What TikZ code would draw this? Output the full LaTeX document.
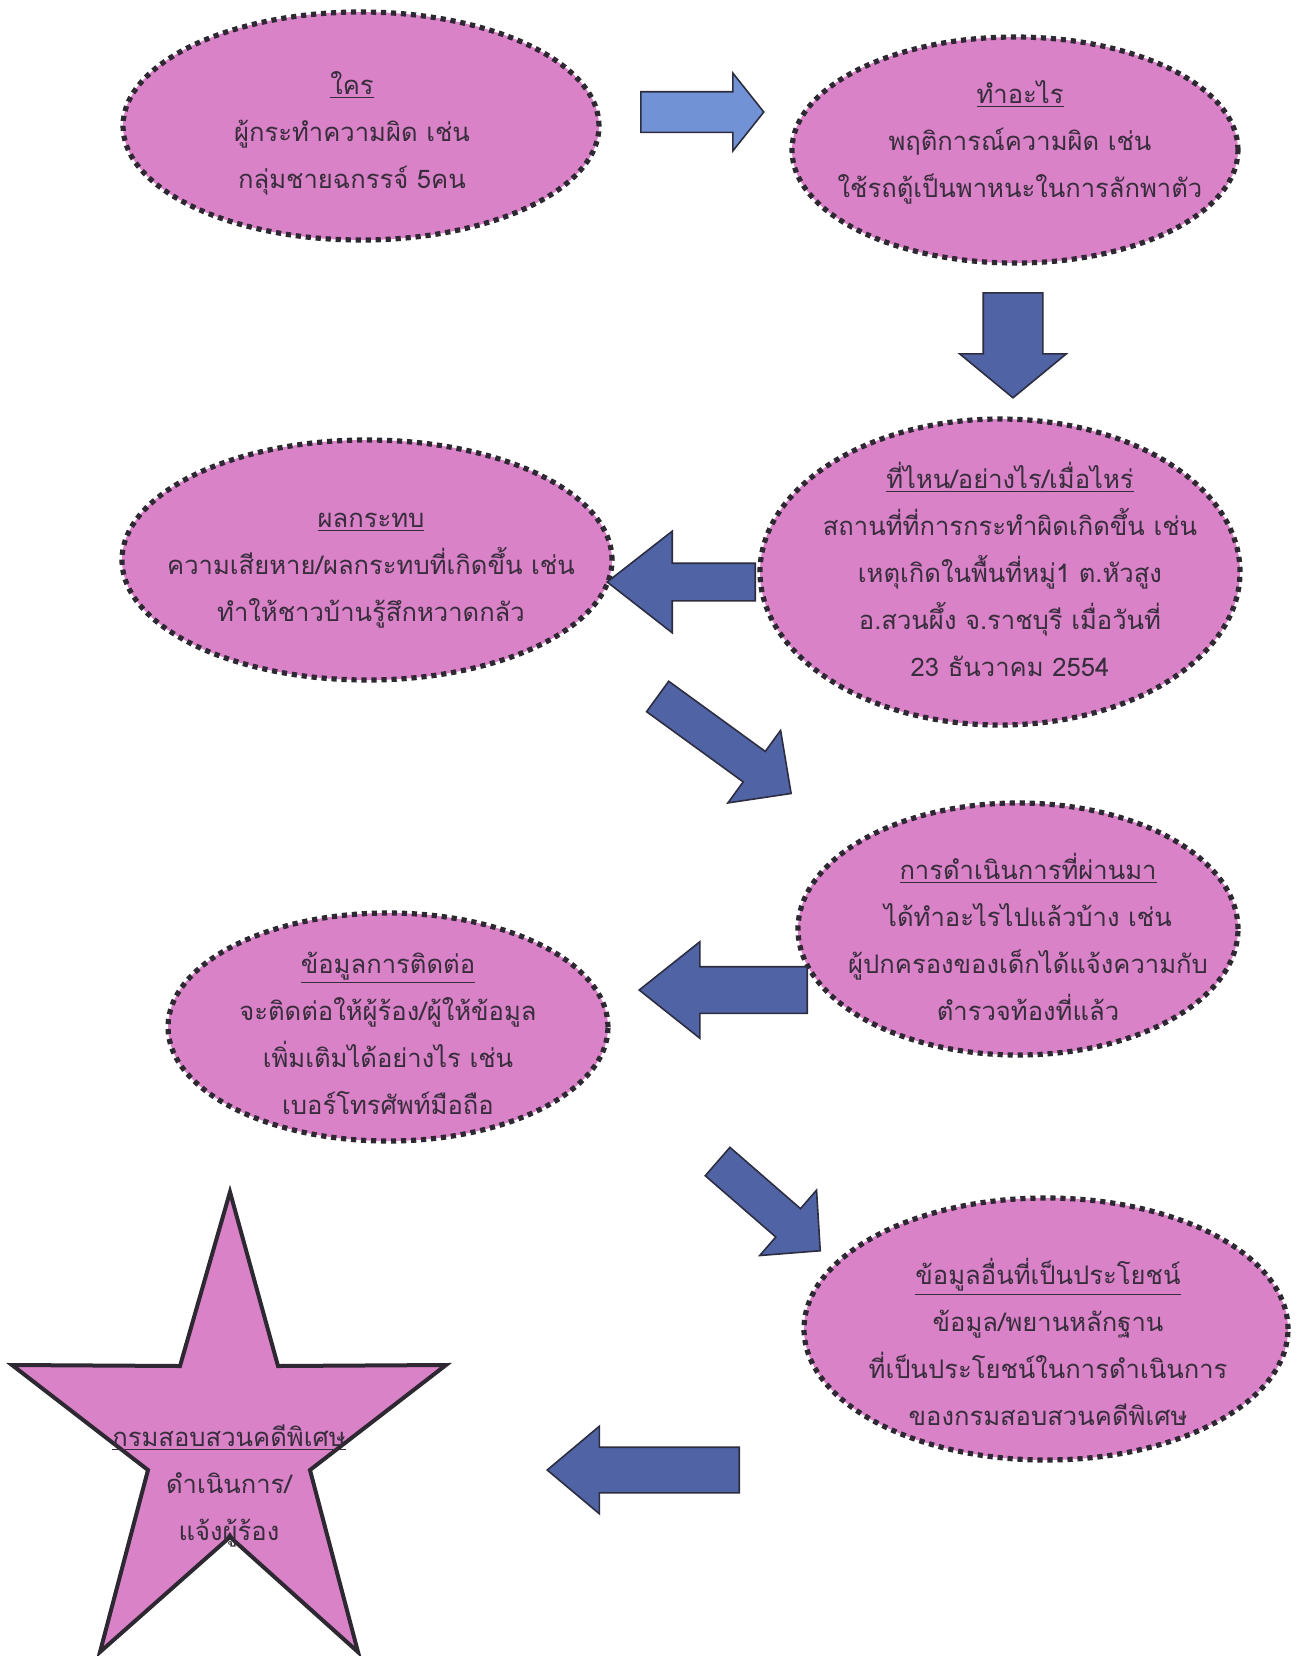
\documentclass[tikz,border=0pt]{standalone}
\usepackage{fontspec}
\usepackage{tikz}
\usetikzlibrary{shapes.geometric,shapes.arrows}
\newfontfamily\thaifont[Script=Thai]{Loma}
\definecolor{pinkfill}{RGB}{218,130,200}
\definecolor{dotgray}{RGB}{45,40,50}
\definecolor{inkgray}{RGB}{55,45,60}
\definecolor{lightblue}{RGB}{114,146,214}
\definecolor{darkblue}{RGB}{80,100,165}
\definecolor{arrowline}{RGB}{45,45,65}

\begin{document}
\begin{tikzpicture}
  [x=0.5pt,y=-0.5pt,
   words/.style={text=inkgray,font=\thaifont\fontsize{12.8}{23.5}\selectfont,align=center},
   bubble/.style={ellipse,fill=pinkfill,draw=dotgray,line width=2.6pt,
     dash pattern=on 2.6pt off 2.4pt,inner sep=0pt},
   fatarrow/.style={single arrow,draw=arrowline,line width=0.8pt,fill=darkblue,
     inner xsep=0pt,minimum width=1pt,anchor=tail}]
  \fill[white] (0,0) rectangle (1298,1656);
  \useasboundingbox (0,0) rectangle (1298,1656);
  % the seven bubbles
  \node[bubble,minimum width=238pt,minimum height=114pt] (who) at (361,126) {};
  \node[bubble,minimum width=223pt,minimum height=113pt] (what) at (1015,150) {};
  \node[bubble,minimum width=240pt,minimum height=153pt] (where) at (1000,572) {};
  \node[bubble,minimum width=245pt,minimum height=120pt] (impact) at (367,560) {};
  \node[bubble,minimum width=220pt,minimum height=126pt] (done) at (1018,929) {};
  \node[bubble,minimum width=220pt,minimum height=114pt] (contact) at (388,1027) {};
  \node[bubble,minimum width=242pt,minimum height=131pt] (useful) at (1046,1329) {};
  % their texts
  \node[words] (whotext) at (352,133)
    {\underline{ใคร}\\ผู้กระทำความผิด เช่น\\กลุ่มชายฉกรรจ์ 5คน};
  \node[words] (whattext) at (1020,142)
    {\underline{ทำอะไร}\\พฤติการณ์ความผิด เช่น\\ใช้รถตู้เป็นพาหนะในการลักพาตัว};
  \node[words] (wheretext) at (1010,569)
    {\underline{ที่ไหน/อย่างไร/เมื่อไหร่}\\สถานที่ที่การกระทำผิดเกิดขึ้น เช่น\\
     เหตุเกิดในพื้นที่หมู่1 ต.หัวสูง\\อ.สวนผึ้ง จ.ราชบุรี เมื่อวันที่\\23 ธันวาคม 2554};
  \node[words] (impacttext) at (371,571)
    {\underline{ผลกระทบ}\\ความเสียหาย/ผลกระทบที่เกิดขึ้น เช่น\\ทำให้ชาวบ้านรู้สึกหวาดกลัว};
  \node[words] (donetext) at (1028,937)
    {\underline{การดำเนินการที่ผ่านมา}\\ได้ทำอะไรไปแล้วบ้าง เช่น\\
     ผู้ปกครองของเด็กได้แจ้งความกับ\\ตำรวจท้องที่แล้ว};
  \node[words] (contacttext) at (388,1033)
    {\underline{ข้อมูลการติดต่อ}\\จะติดต่อให้ผู้ร้อง/ผู้ให้ข้อมูล\\
     เพิ่มเติมได้อย่างไร เช่น\\เบอร์โทรศัพท์มือถือ};
  \node[words] (usefultext) at (1048,1342)
    {\underline{ข้อมูลอื่นที่เป็นประโยชน์}\\ข้อมูล/พยานหลักฐาน\\
     ที่เป็นประโยชน์ในการดำเนินการ\\ของกรมสอบสวนคดีพิเศษ};
  % the star
  \filldraw[fill=pinkfill,draw=dotgray,line width=2pt]
    (230,1192) -- (278,1366) -- (446,1365) -- (310,1470) -- (358,1652)
    -- (230,1537) -- (100,1652) -- (148,1470) -- (12,1365) -- (180,1366) -- cycle;
  \node[words] (dsi) at (229,1486) {\underline{กรมสอบสวนคดีพิเศษ}\\ดำเนินการ/\\แจ้งผู้ร้อง};
  % block arrows
  \node[fatarrow,fill=lightblue,minimum height=61.5pt,inner ysep=9.75pt,
    single arrow head extend=9.25pt,single arrow tip angle=103] (ar1) at (640,112) {};
  \node[fatarrow,rotate=-90,minimum height=52.5pt,inner ysep=14.5pt,
    single arrow head extend=11.75pt,single arrow tip angle=101] (ar2) at (1013,292) {};
  \node[fatarrow,rotate=180,minimum height=74pt,inner ysep=9pt,
    single arrow head extend=16pt,single arrow tip angle=76] (ar3) at (756,582) {};
  \node[fatarrow,rotate=-36,minimum height=82.5pt,inner ysep=9pt,
    single arrow head extend=13pt,single arrow tip angle=89] (ar4) at (657,696) {};
  \node[fatarrow,rotate=180,minimum height=84pt,inner ysep=11.25pt,
    single arrow head extend=12.5pt,single arrow tip angle=77] (ar5) at (808,990) {};
  \node[fatarrow,rotate=-41,minimum height=68pt,inner ysep=9pt,
    single arrow head extend=12.25pt,single arrow tip angle=91] (ar6) at (717,1161) {};
  \node[fatarrow,rotate=180,minimum height=96pt,inner ysep=11pt,
    single arrow head extend=10.5pt,single arrow tip angle=80] (ar7) at (740,1470) {};
\end{tikzpicture}
\end{document}
